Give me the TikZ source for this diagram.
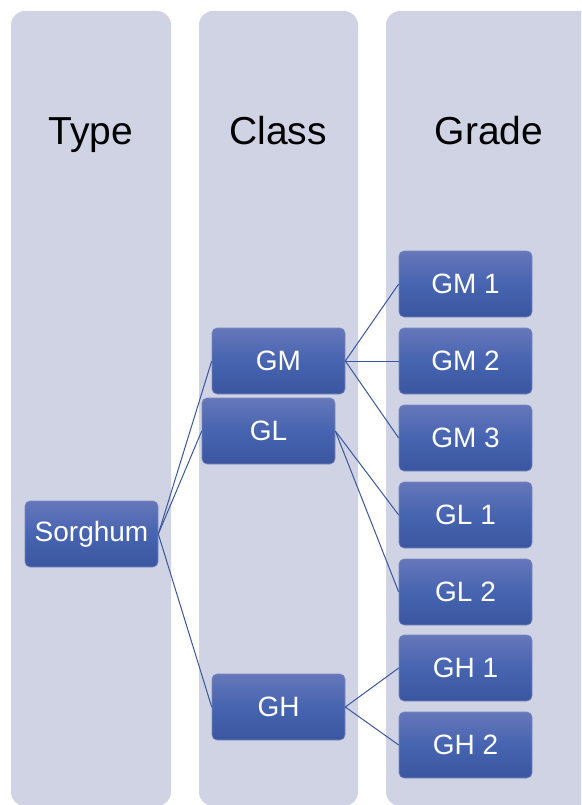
\documentclass[tikz,border=0pt]{standalone}
\usepackage{fontspec}
\setmainfont{Liberation Sans}
\definecolor{colbg}{HTML}{CFD3E4}
\definecolor{boxtop}{HTML}{6677BA}
\definecolor{boxmid}{HTML}{4664B0}
\definecolor{boxbot}{HTML}{3B56A0}
\definecolor{boxedge}{HTML}{7A88C0}
\definecolor{linkc}{HTML}{3B579C}
\begin{document}
\begin{tikzpicture}[x=1pt,y=-1pt,
  column/.style={fill=colbg, rounded corners=14pt},
  title/.style={font=\fontsize{39}{41}\selectfont, text=black, anchor=base, inner sep=0pt},
  item/.style={draw=boxedge, line width=0.6pt, rounded corners=5pt,
    top color=boxtop, bottom color=boxbot, middle color=boxmid,
    minimum width=133pt, minimum height=66pt, inner sep=0pt,
    text=white, font=\fontsize{28}{30}\selectfont},
  link/.style={draw=linkc, line width=1pt}]
\useasboundingbox (0,0) rectangle (581,805);
\begin{scope}
\clip (0,0) rectangle (581,805);
\fill[column] (11,11) rectangle (171,806);
\fill[column] (199,11) rectangle (358,806);
\fill[column] (386,11) rectangle (600,806);
\end{scope}
\node[title] (tType) at (91,145) {Type};
\node[title] (tClass) at (278,145) {Class};
\node[title] (tGrade) at (489,145) {Grade};

\node[item] (sorghum) at (91.5,534) {Sorghum};
\node[item] (gm) at (278.5,361) {GM};
\node[item] (gl) at (268.5,431) {GL};
\node[item] (gh) at (278.5,707) {GH};

\node[item] (gm1) at (465.5,284) {GM 1};
\node[item] (gm2) at (465.5,361) {GM 2};
\node[item] (gm3) at (465.5,438) {GM 3};
\node[item] (gl1) at (465.5,515) {GL 1};
\node[item] (gl2) at (465.5,592) {GL 2};
\node[item] (gh1) at (465.5,668) {GH 1};
\node[item] (gh2) at (465.5,745) {GH 2};

\draw[link] (sorghum.east) -- (gm.west);
\draw[link] (sorghum.east) -- (gl.west);
\draw[link] (sorghum.east) -- (gh.west);
\draw[link] (gm.east) -- (gm1.west);
\draw[link] (gm.east) -- (gm2.west);
\draw[link] (gm.east) -- (gm3.west);
\draw[link] (gl.east) -- (gl1.west);
\draw[link] (gl.east) -- (gl2.west);
\draw[link] (gh.east) -- (gh1.west);
\draw[link] (gh.east) -- (gh2.west);
\end{tikzpicture}
\end{document}
